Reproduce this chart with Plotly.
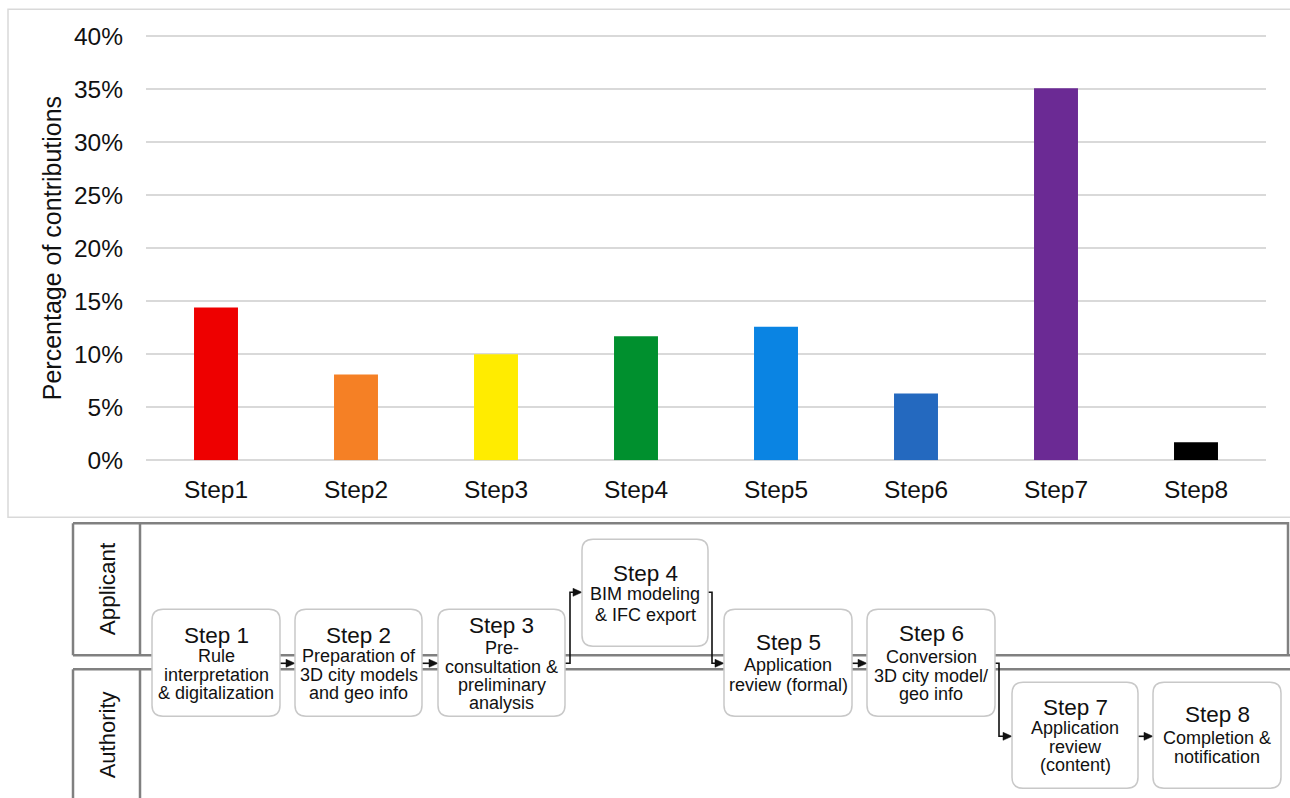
import plotly.graph_objects as go

W = 1290
# the captured picture is squeezed vertically; compensate so marks land on target pixels
H_FIG = 815
SY, OY = 0.979, 2.8

# ---------------- data ----------------
categories = ["Step1", "Step2", "Step3", "Step4", "Step5", "Step6", "Step7", "Step8"]
contributions = [0.144, 0.081, 0.100, 0.117, 0.126, 0.063, 0.351, 0.017]
bar_colors = ["#EE0000", "#F58025", "#FFEC00", "#00902E", "#0A84E3", "#2469BF", "#6B2A94", "#000000"]
y_ticks = [0, 0.05, 0.10, 0.15, 0.20, 0.25, 0.30, 0.35, 0.40]

# process diagram content
step_titles = ["Step 1", "Step 2", "Step 3", "Step 4", "Step 5", "Step 6", "Step 7", "Step 8"]
step_texts = [
    ["Rule", "interpretation", "& digitalization"],
    ["Preparation of", "3D city models", "and geo info"],
    ["Pre-", "consultation &", "preliminary", "analysis"],
    ["BIM modeling", "& IFC export"],
    ["Application", "review (formal)"],
    ["Conversion", "3D city model/", "geo info"],
    ["Application", "review", "(content)"],
    ["Completion &", "notification"],
]
lanes = ["Applicant", "Authority"]

# diagram layout (pixels): box x0, y0, x1, y1, title y, first line y, line spacing
box_geom = [
    (152, 609, 280, 716, 635, 656, 18.5),
    (295, 609, 422, 716, 635, 656, 18.5),
    (438, 609, 565, 716, 625, 648, 18.3),
    (582, 539, 708, 646, 573, 594, 20.7),
    (724, 609, 852, 716, 642, 665, 20.0),
    (867, 609, 995, 716, 633, 657, 18.5),
    (1012, 682, 1138, 788, 707, 728, 18.5),
    (1153, 682, 1281, 788, 714, 738, 19.0),
]
connectors = [
    [(280, 663), (295, 663)],
    [(422, 663), (438, 663)],
    [(565, 663), (570, 663), (570, 592), (582, 592)],
    [(708, 592), (712, 592), (712, 663), (724, 663)],
    [(852, 663), (867, 663)],
    [(995, 663), (999, 663), (999, 736), (1012, 736)],
    [(1138, 736), (1153, 736)],
]

FONT = "Liberation Sans, Arial, sans-serif"
TXT = "#111111"


def px(x):
    return x / W


def py(y):
    return 1 - ((y - OY) / SY) / H_FIG


def path_from(points, close=False):
    s = "M " + " L ".join(f"{px(x):.5f},{py(y):.5f}" for x, y in points)
    return s + (" Z" if close else "")


def rounded_rect(x0, y0, x1, y1, r=11):
    c = lambda x, y: f"{px(x):.5f},{py(y):.5f}"
    return (f"M {c(x0 + r, y0)} L {c(x1 - r, y0)} Q {c(x1, y0)} {c(x1, y0 + r)} "
            f"L {c(x1, y1 - r)} Q {c(x1, y1)} {c(x1 - r, y1)} "
            f"L {c(x0 + r, y1)} Q {c(x0, y1)} {c(x0, y1 - r)} "
            f"L {c(x0, y0 + r)} Q {c(x0, y0)} {c(x0 + r, y0)} Z")


fig = go.Figure()
fig.add_trace(go.Bar(
    x=categories, y=contributions, marker_color=bar_colors,
    marker_line_width=0, width=0.314, hoverinfo="x+y",
))

# bar chart axes geometry
y0_px, px_per_pct = 460, 10.6
y_top_val = 0.41
y_top_px = y0_px - y_top_val * 100 * px_per_pct

shapes = []
annotations = []

# chart panel border
shapes.append(dict(type="rect", xref="paper", yref="paper",
                   x0=px(8), x1=px(1293), y0=py(517), y1=py(9),
                   line=dict(color="#D9D9D9", width=1.5), layer="below"))

# swimlane lines
lane_col = "#808080"
lane_w = 2.5
lane_lines = [
    [(73, 523), (1288, 523), (1288, 655)],
    [(73, 655), (1292, 655)],
    [(73, 669), (1292, 669)],
    [(73, 523), (73, 655)],
    [(140, 523), (140, 655)],
    [(73, 669), (73, 805)],
    [(140, 669), (140, 805)],
]
for pts in lane_lines:
    shapes.append(dict(type="path", xref="paper", yref="paper", path=path_from(pts),
                       line=dict(color=lane_col, width=lane_w)))

annotations.append(dict(text=lanes[0], x=px(107), y=py(589), xref="paper", yref="paper",
                        showarrow=False, textangle=-90, xanchor="center", yanchor="middle",
                        font=dict(family=FONT, size=22.5, color=TXT)))
annotations.append(dict(text=lanes[1], x=px(107), y=py(735), xref="paper", yref="paper",
                        showarrow=False, textangle=-90, xanchor="center", yanchor="middle",
                        font=dict(family=FONT, size=22, color=TXT)))

# connectors with arrowheads
for pts in connectors:
    shapes.append(dict(type="path", xref="paper", yref="paper",
                       path=path_from(pts[:-1] + [(pts[-1][0] - 6, pts[-1][1])]),
                       line=dict(color=TXT, width=1.6)))
    tx, ty = pts[-1]
    shapes.append(dict(type="path", xref="paper", yref="paper",
                       path=path_from([(tx, ty), (tx - 9, ty - 4), (tx - 9, ty + 4)], close=True),
                       fillcolor=TXT, line=dict(color=TXT, width=0.5)))

# step boxes
for title, lines, (x0, y0, x1, y1, ty, ly, sp) in zip(step_titles, step_texts, box_geom):
    shapes.append(dict(type="path", xref="paper", yref="paper", path=rounded_rect(x0, y0, x1, y1),
                       fillcolor="white", line=dict(color="#C8C8C8", width=1.5)))
    cx = (x0 + x1) / 2
    annotations.append(dict(text=title, x=px(cx), y=py(ty), xref="paper", yref="paper",
                            showarrow=False, xanchor="center", yanchor="middle",
                            font=dict(family=FONT, size=22.5, color=TXT)))
    for i, ln in enumerate(lines):
        annotations.append(dict(text=ln, x=px(cx), y=py(ly + i * sp), xref="paper", yref="paper",
                                showarrow=False, xanchor="center", yanchor="middle",
                                font=dict(family=FONT, size=18, color=TXT)))

# y axis title
annotations.append(dict(text="Percentage of contributions", x=px(52), y=py(248), xref="paper", yref="paper",
                        showarrow=False, textangle=-90, xanchor="center", yanchor="middle",
                        font=dict(family=FONT, size=25, color=TXT)))

fig.update_layout(
    width=W, height=H_FIG, autosize=False,
    margin=dict(l=0, r=0, t=0, b=0, pad=0),
    paper_bgcolor="white", plot_bgcolor="rgba(0,0,0,0)",
    showlegend=False,
    font=dict(family=FONT, color=TXT),
    xaxis=dict(domain=[px(146), px(1266)], range=[-0.5, 7.5], showgrid=False, zeroline=False,
               showline=False, ticks="", tickfont=dict(size=24.5, family=FONT, color=TXT),
               ticklabelstandoff=12, fixedrange=True),
    yaxis=dict(domain=[py(y0_px), py(y_top_px)], range=[0, y_top_val], tickvals=y_ticks,
               tickformat=".0%", showgrid=True, gridcolor="#D9D9D9", gridwidth=2,
               zeroline=True, zerolinecolor="#D9D9D9", zerolinewidth=2, showline=False, ticks="",
               tickfont=dict(size=24.5, family=FONT, color=TXT), ticklabelstandoff=22, fixedrange=True),
    shapes=shapes,
    annotations=annotations,
    bargap=0.686,
)

page_fix = (
    "var s=document.createElement('style');"
    "s.textContent='html,body{margin:0!important;padding:0!important;overflow:hidden!important;}';"
    "document.head.appendChild(s);"
)

fig.write_html(
    "out.html",
    config={"displayModeBar": False, "responsive": False},
    post_script=page_fix,
)
